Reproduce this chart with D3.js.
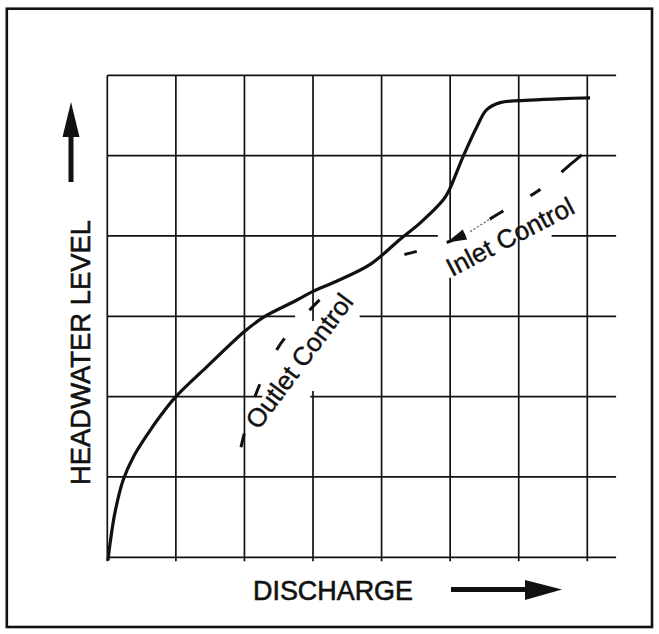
<!DOCTYPE html>
<html>
<head>
<meta charset="utf-8">
<script src="https://cdn.jsdelivr.net/npm/d3@7"></script>
<style>
  html, body { margin: 0; padding: 0; background: #fff; }
  svg { display: block; }
</style>
</head>
<body>
<svg id="chart" width="659" height="634"></svg>
<script>
// Unlabelled grid divisions (relative units)
const dischargeTicks = [0, 1, 2, 3, 4, 5, 6, 7];
const headwaterTicks = [0, 1, 2, 3, 4, 5, 6];

// Combined performance curve: headwater level against discharge
const ratingDischarge = [0.01, 0.04, 0.11, 0.23, 0.38, 0.6, 0.8, 1.0, 1.45, 2.0, 2.28, 2.76, 3.0, 3.3, 3.84, 4.27, 4.56, 4.9, 4.98, 5.19, 5.39, 5.53, 5.73, 6.16, 6.65, 7.04];
const ratingHeadwater = [-0.04, 0.17, 0.55, 0.96, 1.25, 1.55, 1.79, 2.0, 2.37, 2.81, 2.99, 3.20, 3.31, 3.42, 3.65, 3.96, 4.16, 4.45, 4.56, 4.99, 5.36, 5.57, 5.66, 5.69, 5.71, 5.72];

// Outlet-control branch (dashed)
const outletDischarge = [1.95, 2.0, 2.18, 2.49, 2.91, 3.34];
const outletHeadwater = [1.37, 1.55, 2.06, 2.61, 3.04, 3.41];

// Inlet-control branch (dashed)
const inletDischarge = [3.89, 4.43, 5.1, 5.73, 6.28, 6.78, 6.92];
const inletHeadwater = [3.69, 3.79, 3.97, 4.29, 4.56, 4.91, 5.01];

// Text
const xAxisTitle = "DISCHARGE";
const yAxisTitle = "HEADWATER LEVEL";
const outletLabel = "Outlet Control";
const inletLabel = "Inlet Control";

// Grid line breaks left open around the curve labels (in grid units)
const gridGaps = [
  { dir: "h", at: 3, from: 2.74, to: 3.68 },
  { dir: "h", at: 2, from: 2.26, to: 2.96 },
  { dir: "h", at: 4, from: 4.82, to: 6.48 },
  { dir: "v", at: 3, from: 2.07, to: 2.94 },
  { dir: "v", at: 5, from: 3.48, to: 3.92 }
];

const svg = d3.select("#chart");
const ink = "#111";
const font = "'Liberation Sans', Arial, Helvetica, sans-serif";

const x = d3.scaleLinear().domain([0, 7]).range([107.3, 587.3]);
const y = d3.scaleLinear().domain([0, 6]).range([557.3, 75.3]);

// Outer frame
svg.append("rect")
  .attr("x", 6.8).attr("y", 8.7)
  .attr("width", 645.2).attr("height", 618.3)
  .attr("fill", "none").attr("stroke", ink).attr("stroke-width", 2.6);

// Split a line span into pieces around its gaps
function segments(dir, at, from, to) {
  const gaps = gridGaps.filter(g => g.dir === dir && g.at === at)
    .sort((a, b) => a.from - b.from);
  const out = [];
  let start = from;
  gaps.forEach(g => { out.push([start, g.from]); start = g.to; });
  out.push([start, to]);
  return out;
}

const grid = svg.append("g")
  .attr("stroke", ink).attr("stroke-width", 1.7).attr("fill", "none");

headwaterTicks.forEach(t => {
  segments("h", t, 0, 7.42).forEach(([a, b]) => {
    grid.append("line")
      .attr("x1", x(a)).attr("x2", x(b))
      .attr("y1", y(t)).attr("y2", y(t));
  });
});

dischargeTicks.forEach(t => {
  segments("v", t, -0.05, 6).forEach(([a, b]) => {
    grid.append("line")
      .attr("x1", x(t)).attr("x2", x(t))
      .attr("y1", y(a)).attr("y2", y(b));
  });
});

const smooth = d3.line()
  .x(d => x(d[0]))
  .y(d => y(d[1]))
  .curve(d3.curveCatmullRom.alpha(0.5));

const rating = d3.zip(ratingDischarge, ratingHeadwater);
const outlet = d3.zip(outletDischarge, outletHeadwater);
const inlet = d3.zip(inletDischarge, inletHeadwater);

// Main curve
svg.append("path")
  .attr("d", smooth(rating))
  .attr("fill", "none")
  .attr("stroke", ink)
  .attr("stroke-width", 3.2)
  .attr("stroke-linejoin", "round");

// Outlet control branch
svg.append("path")
  .attr("d", smooth(outlet))
  .attr("fill", "none")
  .attr("stroke", ink)
  .attr("stroke-width", 3)
  .attr("stroke-dasharray", "14 38");

// Inlet control branch
const inletPath = svg.append("path")
  .attr("d", smooth(inlet))
  .attr("fill", "none")
  .attr("stroke", ink)
  .attr("stroke-width", 3)
  .attr("stroke-dasharray", "0 31 13 31 20 29 16 31 12 27 27 60");

// faint leader between the arrow and the next dash
svg.append("path")
  .attr("d", smooth(inlet))
  .attr("fill", "none")
  .attr("stroke", "#444")
  .attr("stroke-width", 1.1)
  .attr("stroke-dasharray", "0 101 2 2 2 2 2 2 2 2 2 2 2 400");

// Arrowhead on the inlet branch, pointing back down the curve
(function () {
  const node = inletPath.node();
  const tip = node.getPointAtLength(75);
  const tail = node.getPointAtLength(95);
  const dx = tail.x - tip.x, dy = tail.y - tip.y;
  const len = Math.hypot(dx, dy);
  const nx = -dy / len, ny = dx / len;
  const hw = 5.5;
  svg.append("path")
    .attr("d", `M${tip.x},${tip.y} L${tail.x + nx * hw},${tail.y + ny * hw} L${tail.x - nx * hw},${tail.y - ny * hw} Z`)
    .attr("fill", ink);
})();

// Curve labels, set along their branches
const labelStyle = sel => sel
  .attr("font-family", font)
  .attr("fill", ink)
  .attr("stroke", ink)
  .attr("stroke-width", 0.4);

svg.append("text")
  .attr("transform", `translate(${x(2.205)},${y(1.576)}) rotate(-53.3)`)
  .attr("font-size", 26)
  .call(labelStyle)
  .text(outletLabel);

svg.append("text")
  .attr("transform", `translate(${x(5.027)},${y(3.489)}) rotate(-27.5)`)
  .attr("font-size", 26)
  .call(labelStyle)
  .text(inletLabel);

// Axis titles
svg.append("text")
  .attr("x", 253).attr("y", 600)
  .attr("font-size", 27)
  .attr("textLength", 160)
  .attr("lengthAdjust", "spacingAndGlyphs")
  .call(labelStyle)
  .attr("stroke-width", 0.6)
  .text(xAxisTitle);

svg.append("text")
  .attr("transform", "translate(90,485) rotate(-90)")
  .attr("font-size", 28)
  .attr("textLength", 265)
  .attr("lengthAdjust", "spacingAndGlyphs")
  .call(labelStyle)
  .attr("stroke-width", 0.6)
  .text(yAxisTitle);

// Direction arrows beside the titles
const arrows = svg.append("g").attr("fill", ink);
// up arrow
arrows.append("rect").attr("x", 68.5).attr("y", 136).attr("width", 5).attr("height", 46);
arrows.append("path").attr("d", "M71,102 L79.5,137 L62.5,137 Z");
// right arrow
arrows.append("rect").attr("x", 451).attr("y", 587).attr("width", 76).attr("height", 5);
arrows.append("path").attr("d", "M562,589.5 L525,580 L525,600 Z");
</script>
</body>
</html>
